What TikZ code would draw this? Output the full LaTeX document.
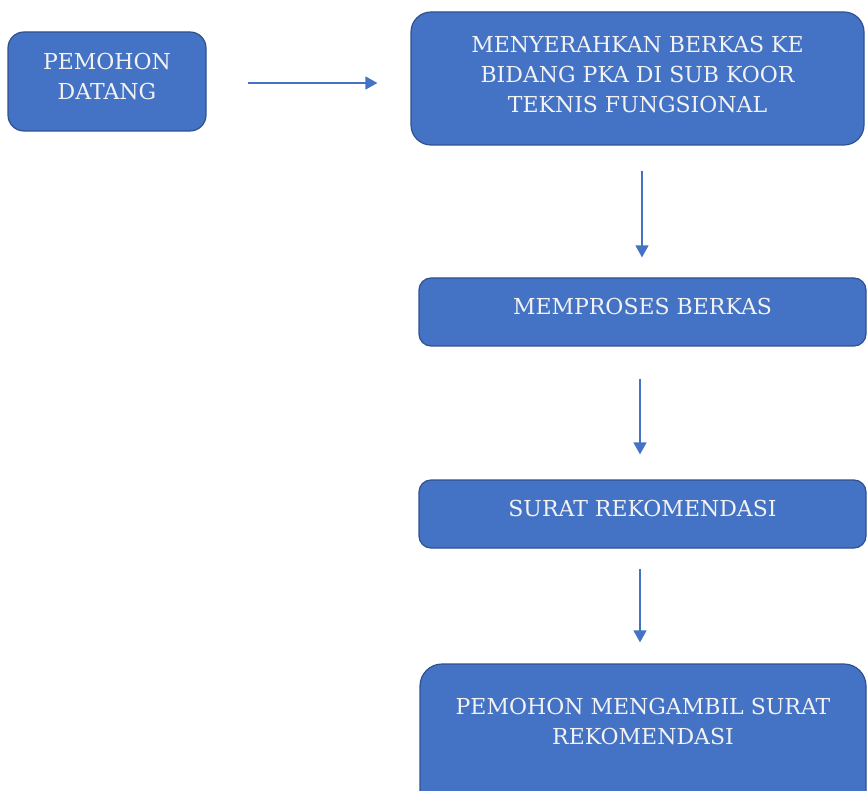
\documentclass[tikz,border=0pt]{standalone}
\usepackage{fontspec}
\setmainfont{DejaVu Serif}
\usetikzlibrary{arrows.meta,calc}
\definecolor{boxfill}{HTML}{4472C4}
\definecolor{boxline}{HTML}{2F528F}
\definecolor{arrcol}{HTML}{4472C4}
\definecolor{txtcol}{HTML}{F2F2F2}
\tikzset{
  box/.style={draw=boxline, line width=1.2pt, fill=boxfill, rounded corners=16pt, inner sep=0pt},
  txt/.style={text=txtcol, align=center, font=\fontsize{22}{30}\selectfont, inner sep=0pt},
  arr/.style={draw=arrcol, line width=1.4pt, -{Triangle[width=13pt,length=12pt]}}
}
\begin{document}
\begin{tikzpicture}[x=1pt,y=-1pt]
\useasboundingbox (0,0) rectangle (867,791);
\clip (0,0) rectangle (867,791);
\node[box, minimum width=198pt, minimum height=99pt] (b1) at (107,81.5) {};
\node[txt] (t1) at (107,76) {PEMOHON\\DATANG};
\node[box, minimum width=453pt, minimum height=133pt, rounded corners=20pt] (b2) at (637.5,78.5) {};
\node[txt] (t2) at (637.5,74) {MENYERAHKAN BERKAS KE\\BIDANG PKA DI SUB KOOR\\TEKNIS FUNGSIONAL};
\node[box, minimum width=447pt, minimum height=68pt, rounded corners=12pt] (b3) at (642.5,312) {};
\node[txt] (t3) at (642.5,306) {MEMPROSES BERKAS};
\node[box, minimum width=447pt, minimum height=68pt, rounded corners=12pt] (b4) at (642.5,514) {};
\node[txt] (t4) at (642.5,508) {SURAT REKOMENDASI};
\node[box, minimum width=446pt, minimum height=150pt, rounded corners=22pt] (b5) at (643,739) {};
\node[txt] (t5) at (643,721) {PEMOHON MENGAMBIL SURAT\\REKOMENDASI};
\draw[arr, shorten <=41pt, shorten >=33pt] ($(b1.east)+(0,1.5)$) -- ($(b1.east -| b2.west)+(0,1.5)$);
\draw[arr, shorten <=25pt, shorten >=20pt] (b2.south -| 642,0) -- (b3.north -| 642,0);
\draw[arr, shorten <=32pt, shorten >=25pt] (b3.south -| 640,0) -- (b4.north -| 640,0);
\draw[arr, shorten <=20pt, shorten >=21pt] (b4.south -| 640,0) -- (b5.north -| 640,0);
\end{tikzpicture}
\end{document}
